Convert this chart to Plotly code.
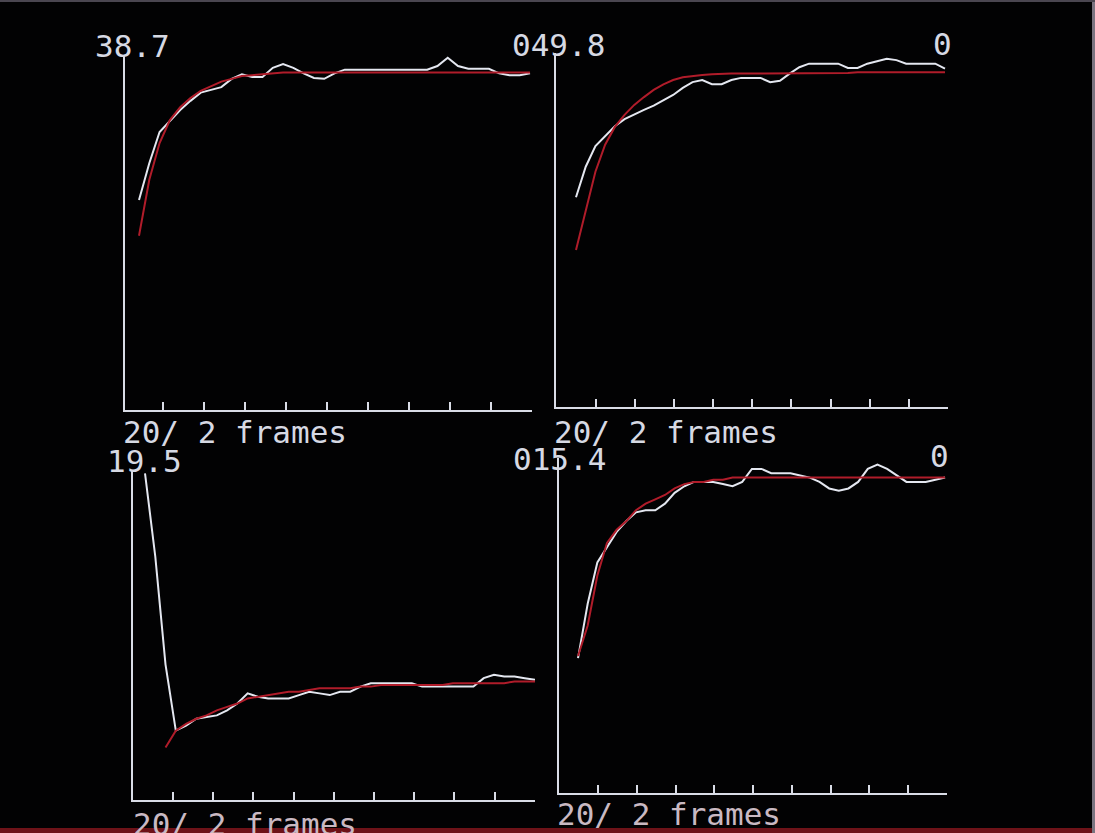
import plotly.graph_objects as go

W, H = 1095, 833

# sample index (frames) shared by all four panels
frames = list(range(1, 40))

# ---- top-left panel (scale 38.7) ----
tl_obs = [22.9, 26.9, 30.3, 31.5, 32.7, 33.7, 34.6, 34.9, 35.2, 36.1,
          36.6, 36.3, 36.3, 37.3, 37.7, 37.3, 36.7, 36.2, 36.1, 36.7,
          37.1, 37.1, 37.1, 37.1, 37.1, 37.1, 37.1, 37.1, 37.1,
          37.5, 38.4, 37.5, 37.2, 37.2, 37.2, 36.7, 36.5, 36.5, 36.7]
tl_fit = [19.0, 25.1, 29.1, 31.6, 33.0, 34.0, 34.8, 35.3, 35.8, 36.1,
          36.4, 36.5, 36.6, 36.7, 36.8, 36.8, 36.8, 36.8, 36.8, 36.8,
          36.8, 36.8, 36.8, 36.8, 36.8, 36.8, 36.8, 36.8, 36.8, 36.8,
          36.8, 36.8, 36.8, 36.8, 36.8, 36.8, 36.8, 36.8, 36.8]

# ---- top-right panel (scale 49.8) ----
tr_obs = [29.5, 33.8, 36.7, 38.1, 39.5, 40.5, 41.2, 41.8, 42.4, 43.1,
          43.9, 44.9, 45.7, 46.0, 45.4, 45.4, 46.0, 46.3, 46.3, 46.3,
          45.7, 45.9, 46.9, 47.8, 48.3, 48.3, 48.3, 48.3, 47.7, 47.7,
          48.3, 48.7, 49.0, 48.8, 48.3, 48.3, 48.3, 48.3, 47.6]
tr_fit = [22.1, 27.4, 33.1, 36.9, 39.4, 41.1, 42.5, 43.6, 44.6, 45.4,
          46.0, 46.4, 46.6, 46.7, 46.8, 46.9, 46.9, 46.9, 46.9, 46.9,
          46.9, 47.0, 47.0, 47.0, 47.0, 47.0, 47.0, 47.0, 47.0, 47.1,
          47.1, 47.1, 47.1, 47.1, 47.1, 47.1, 47.1, 47.1, 47.1]

# ---- bottom-left panel (scale 19.5) ----
bl_obs = [19.3, 14.4, 8.0, 4.1, 4.4, 4.8, 4.9, 5.0, 5.3, 5.7,
          6.3, 6.1, 6.0, 6.0, 6.0, 6.2, 6.4, 6.3, 6.2, 6.4,
          6.4, 6.7, 6.9, 6.9, 6.9, 6.9, 6.9, 6.7, 6.7, 6.7,
          6.7, 6.7, 6.7, 7.2, 7.4, 7.3, 7.3, 7.2, 7.1]
bl_fit = [None, None, 3.1, 4.1, 4.5, 4.8, 5.0, 5.3, 5.5, 5.7,
          6.0, 6.1, 6.2, 6.3, 6.4, 6.4, 6.5, 6.6, 6.6, 6.6,
          6.6, 6.7, 6.7, 6.8, 6.8, 6.8, 6.8, 6.8, 6.8, 6.8,
          6.9, 6.9, 6.9, 6.9, 6.9, 6.9, 7.0, 7.0, 7.0]

# ---- bottom-right panel (scale 15.4) ----
br_obs = [6.2, 8.7, 10.6, 11.3, 12.0, 12.5, 12.9, 13.0, 13.0, 13.3,
          13.8, 14.1, 14.3, 14.3, 14.3, 14.2, 14.1, 14.3, 14.9, 14.9,
          14.7, 14.7, 14.7, 14.6, 14.5, 14.3, 14.0, 13.9, 14.0, 14.3,
          14.9, 15.1, 14.9, 14.6, 14.3, 14.3, 14.3, 14.4, 14.5]
br_fit = [6.3, 7.7, 10.0, 11.5, 12.1, 12.5, 13.0, 13.3, 13.5, 13.7,
          14.0, 14.2, 14.3, 14.3, 14.4, 14.4, 14.5, 14.5, 14.5, 14.5,
          14.5, 14.5, 14.5, 14.5, 14.5, 14.5, 14.5, 14.5, 14.5, 14.5,
          14.5, 14.5, 14.5, 14.5, 14.5, 14.5, 14.5, 14.5, 14.5]

scale_max = [38.7, 49.8, 19.5, 15.4]
# texts as they appear on the screen (left panel's "0" runs into right panel's scale)
top_texts = ["38.7", "049.8", "0"]
bottom_texts = ["19.5", "015.4", "0"]
axis_label = "20/ 2 frames"

# layout geometry (pixels): left, right, top, bottom ; x range ; first tick
panels = [
    dict(obs=tl_obs, fit=tl_fit, box=(125, 532, 55, 410), xr=(-0.36, 39.19), t0=3.33),
    dict(obs=tr_obs, fit=tr_fit, box=(556, 948, 53, 407), xr=(-1.06, 39.31), t0=3.06),
    dict(obs=bl_obs, fit=bl_fit, box=(133, 535, 470, 800), xr=(-0.17, 39.00), t0=3.73),
    dict(obs=br_obs, fit=br_fit, box=(559, 947, 458, 793), xr=(-0.97, 39.20), t0=3.07),
]

AX = "#d9dce6"
WHITE = "#e4e7f0"
RED = "#b01c2a"
BG = "#020203"

fig = go.Figure()
layout = dict(
    width=W, height=H, margin=dict(l=0, r=0, t=0, b=0),
    paper_bgcolor=BG, plot_bgcolor="rgba(0,0,0,0)", showlegend=False,
)

for i, p in enumerate(panels, start=1):
    xa = "x" if i == 1 else f"x{i}"
    ya = "y" if i == 1 else f"y{i}"
    fig.add_trace(go.Scatter(x=frames, y=p["obs"], mode="lines",
                             line=dict(color=WHITE, width=2),
                             xaxis=xa, yaxis=ya, hoverinfo="skip"))
    fig.add_trace(go.Scatter(x=frames, y=p["fit"], mode="lines",
                             line=dict(color=RED, width=2),
                             xaxis=xa, yaxis=ya, hoverinfo="skip",
                             connectgaps=False))
    l, r, t, b = p["box"]
    x0, x1 = p["xr"]
    t0 = p["t0"]
    tickvals = [t0 + j * (x1 - 0.02 - t0) / 9 for j in range(10)]
    layout["xaxis" if i == 1 else f"xaxis{i}"] = dict(
        domain=[l / W, r / W], range=[x0, x1], anchor=ya,
        showline=True, linecolor=AX, linewidth=2,
        ticks="inside", ticklen=8, tickwidth=2, tickcolor=AX,
        tickvals=tickvals, showticklabels=False,
        showgrid=False, zeroline=False, fixedrange=True,
    )
    layout["yaxis" if i == 1 else f"yaxis{i}"] = dict(
        domain=[1 - b / H, 1 - t / H], range=[0, scale_max[i - 1]], anchor=xa,
        showline=True, linecolor=AX, linewidth=2,
        ticks="", showticklabels=False,
        showgrid=False, zeroline=False, fixedrange=True,
    )

fig.update_layout(**layout)

FONT = "DejaVu Sans Mono"
TXT = "#d6d9e3"
DIM = "#c9b9c2"


def label(text, px, py, color=TXT, size=31):
    fig.add_annotation(x=px / W, y=1 - py / H, xref="paper", yref="paper",
                       text=text, showarrow=False, xanchor="left", yanchor="middle",
                       font=dict(family=FONT, size=size, color=color))


# top row
label(top_texts[0], 93, 46)
label(top_texts[1], 510, 45)
label(top_texts[2], 931, 44)
# bottom row
label(bottom_texts[0], 105, 461)
label(bottom_texts[1], 511, 459)
label(bottom_texts[2], 928, 456)
# axis captions
label(axis_label, 121, 432)
label(axis_label, 552, 432)
label(axis_label, 131, 824, color=DIM)
label(axis_label, 555, 814, color=DIM)

# CRT frame edges
fig.add_shape(type="rect", xref="paper", yref="paper", x0=0, x1=1, y0=0, y1=5 / H,
              fillcolor="#6e1218", line_width=0, layer="above")
fig.add_shape(type="rect", xref="paper", yref="paper", x0=1092 / W, x1=1, y0=0, y1=1,
              fillcolor="#7a7480", line_width=0, layer="above")
fig.add_shape(type="rect", xref="paper", yref="paper", x0=0, x1=1, y0=1 - 2 / H, y1=1,
              fillcolor="#4a4650", line_width=0, layer="above")

fig.write_html("out.html")
